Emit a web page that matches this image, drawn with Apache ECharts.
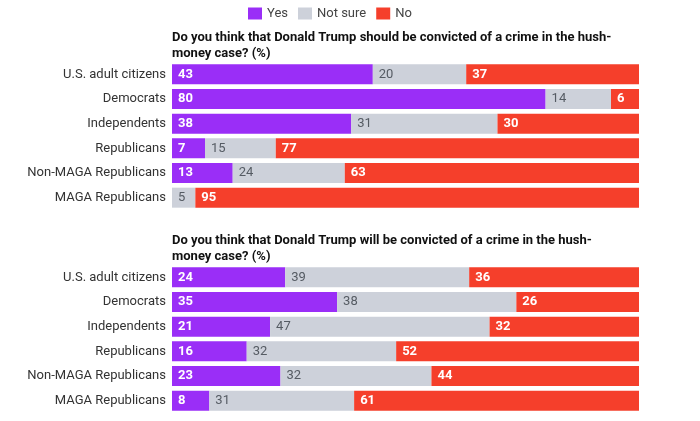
<!DOCTYPE html>
<html>
<head>
<meta charset="utf-8">
<script src="https://cdn.jsdelivr.net/npm/echarts@6/dist/echarts.min.js"></script>
<style>html,body{margin:0;padding:0;background:#fff}#c{width:700px;height:421px}</style>
</head>
<body>
<div id="c"></div>
<script>
var categories = ["U.S. adult citizens", "Democrats", "Independents", "Republicans", "Non-MAGA Republicans", "MAGA Republicans"];
var seriesNames = ["Yes", "Not sure", "No"];
var title1 = "Do you think that Donald Trump should be convicted of a crime in the hush-\nmoney case? (%)";
var title2 = "Do you think that Donald Trump will be convicted of a crime in the hush-\nmoney case? (%)";
var shouldYes = [43, 80, 38, 7, 13, 0];
var shouldNotSure = [20, 14, 31, 15, 24, 5];
var shouldNo = [37, 6, 30, 77, 63, 95];
var willYes = [24, 35, 21, 16, 23, 8];
var willNotSure = [39, 38, 47, 32, 32, 31];
var willNo = [36, 26, 32, 52, 44, 61];

var colors = ["#9a2ef7", "#cdd1da", "#f53f2b"];
var FONT = "Roboto";

function norm(arrs, k) {
  return arrs[k].map(function (v, i) {
    var t = arrs[0][i] + arrs[1][i] + arrs[2][i];
    return { value: v / t * 100, raw: v };
  });
}
function makeSeries(arrs, gi) {
  return [0, 1, 2].map(function (k) {
    return {
      name: seriesNames[k], type: 'bar', stack: 's' + gi,
      xAxisIndex: gi, yAxisIndex: gi, barWidth: 20,
      itemStyle: { color: colors[k] },
      data: norm(arrs, k),
      label: {
        show: true, position: 'insideLeft', offset: [1, 0],
        fontFamily: FONT, fontSize: 13,
        fontWeight: k === 1 ? 'normal' : 'bold',
        color: k === 1 ? '#555b63' : '#ffffff',
        formatter: function (p) { return p.data.raw ? String(p.data.raw) : ''; }
      },
      emphasis: { disabled: true }
    };
  });
}
var grids = [
  { left: 172, width: 467, top: 62, height: 148 },
  { left: 172, width: 467, top: 265, height: 148 }
];
var xAxes = grids.map(function (g, i) {
  return { type: 'value', gridIndex: i, min: 0, max: 100, show: false };
});
var yAxes = grids.map(function (g, i) {
  return {
    type: 'category', gridIndex: i, inverse: true, data: categories,
    axisLine: { show: false }, axisTick: { show: false },
    axisLabel: { fontFamily: FONT, fontSize: 13, color: '#333', margin: 6 }
  };
});
var chart = echarts.init(document.getElementById('c'));
chart.setOption({
  animation: false,
  textStyle: { fontFamily: FONT },
  legend: {
    left: 248, top: 7, padding: 0, icon: 'rect', itemWidth: 14, itemHeight: 12, itemGap: 10,
    textStyle: { fontFamily: FONT, fontSize: 13, color: '#444' },
    data: seriesNames, selectedMode: false
  },
  title: [
    { text: title1, left: 172, top: 30, padding: 0, textStyle: { fontFamily: FONT, fontSize: 13, fontWeight: 'bold', color: '#111', lineHeight: 16 } },
    { text: title2, left: 172, top: 233, padding: 0, textStyle: { fontFamily: FONT, fontSize: 13, fontWeight: 'bold', color: '#111', lineHeight: 16 } }
  ],
  grid: grids,
  xAxis: xAxes,
  yAxis: yAxes,
  series: makeSeries([shouldYes, shouldNotSure, shouldNo], 0).concat(makeSeries([willYes, willNotSure, willNo], 1))
});
</script>
</body>
</html>
